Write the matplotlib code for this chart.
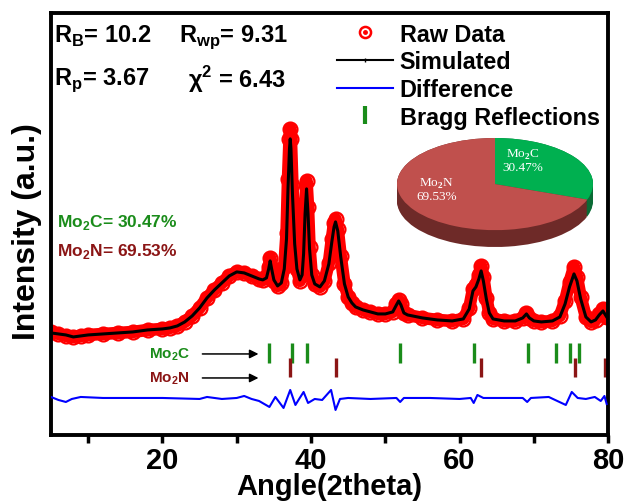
import numpy as np
import matplotlib.pyplot as plt
from matplotlib.lines import Line2D
from matplotlib.ticker import MultipleLocator

plt.rcParams['font.family'] = ['Liberation Sans', 'DejaVu Sans']
plt.rcParams['font.weight'] = 'bold'
plt.rcParams['mathtext.fontset'] = 'custom'
plt.rcParams['mathtext.rm'] = 'Liberation Serif'
plt.rcParams['mathtext.bf'] = 'Liberation Sans:bold'

# XRD pattern (arbitrary intensity units)
two_theta = [5.0, 6.0, 7.0, 8.0, 9.0, 10.0, 12.0, 14.0, 16.0, 18.0, 20.0, 21.0, 22.0, 23.0,
             24.0, 25.0, 26.0, 27.0, 28.0, 29.0, 30.0, 31.0, 32.0, 33.0, 33.5, 34.0, 34.3,
             34.5, 34.7, 35.0, 35.5, 36.0, 36.4, 36.7, 36.9, 37.1, 37.2, 37.3, 37.5, 37.8,
             38.1, 38.5, 38.8, 39.0, 39.2, 39.4, 39.6, 39.8, 40.1, 40.5, 41.2, 41.8, 42.4,
             42.8, 43.1, 43.3, 43.6, 44.0, 44.5, 45.0, 45.5, 46.0, 47.0, 48.0, 49.0, 50.0,
             51.0, 51.5, 51.8, 52.1, 52.5, 53.0, 55.0, 57.0, 59.0, 60.5, 61.3, 61.8, 62.2,
             62.6, 62.9, 63.2, 63.6, 64.0, 64.5, 66.0, 67.5, 68.5, 69.0, 69.4, 70.0, 71.0,
             72.5, 73.5, 74.2, 74.8, 75.4, 75.8, 76.3, 77.0, 77.7, 78.3, 78.8, 79.3, 79.8]
simulated = [102, 101, 100, 98, 99, 100, 101, 102, 103, 105, 106, 107, 109, 113,
             119, 127, 137, 145, 152, 159, 163, 162, 159, 156, 155, 157, 166,
             174, 166, 155, 149, 152, 166, 196, 246, 286, 296, 286, 241, 191,
             166, 155, 160, 181, 221, 246, 221, 186, 160, 151, 148, 154, 171,
             193, 208, 213, 204, 178, 151, 138, 132, 128, 125, 123, 121, 121,
             123, 130, 134, 130, 122, 120, 117, 115, 114, 116, 126, 144, 148,
             156, 164, 154, 136, 122, 116, 114, 114, 117, 121, 117, 114, 113,
             114, 118, 131, 148, 161, 154, 136, 118, 113, 115, 120, 124, 118]
raw_data = [103, 101, 99, 98, 99, 100, 101, 102, 103, 105, 106, 107, 109, 113,
            119, 127, 137, 145, 152, 159, 163, 162, 159, 156, 155, 158, 168,
            177, 167, 154, 149, 152, 168, 202, 256, 296, 306, 296, 250, 196,
            166, 154, 160, 184, 229, 254, 228, 188, 160, 151, 148, 154, 172,
            196, 212, 216, 206, 179, 151, 138, 132, 128, 125, 123, 121, 121,
            123, 131, 135, 131, 122, 120, 117, 115, 114, 116, 127, 146, 150,
            160, 169, 158, 137, 122, 116, 114, 114, 117, 122, 117, 114, 113,
            114, 119, 134, 153, 168, 158, 138, 118, 113, 115, 121, 126, 118]

diff_theta = [5.0, 6.0, 7.0, 7.8, 9.0, 12.0, 16.0, 20.0, 25.0, 26.0, 28.0, 30.0, 31.0,
              32.0, 33.0, 34.4, 35.2, 36.3, 37.2, 37.9, 38.4, 39.0, 39.6, 40.5, 41.5,
              42.7, 43.3, 43.9, 45.0, 48.0, 51.5, 52.0, 52.5, 56.0, 60.0, 61.5, 61.9,
              62.4, 63.2, 65.0, 68.5, 69.1, 69.6, 72.0, 74.3, 75.1, 75.9, 77.0, 78.2,
              79.0, 79.5, 79.8]
difference = [38, 35, 33, 36, 38, 37, 37, 37, 36, 38, 36, 37, 39,
              36, 34, 28, 38, 27, 45, 30, 36, 43, 32, 36, 35,
              45, 25, 36, 37, 36, 37, 33, 37, 37, 36, 37, 32,
              40, 37, 37, 37, 33, 37, 38, 30, 43, 37, 36, 38,
              34, 39, 31]

mo2c_pos = [34.4, 37.4, 39.5, 52.0, 61.9, 69.2, 73.0, 74.8, 76.1]
mo2n_pos = [37.2, 43.3, 62.9, 75.6, 79.6]

phase_names = ['Mo$_\\mathrm{2}$C', 'Mo$_\\mathrm{2}$N']
phase_frac = [30.47, 69.53]

red = '#ff0000'
green = '#1a8c1a'
darkred = '#8b1515'

fig = plt.figure(figsize=(6.26, 5.02), dpi=100)
ax = fig.add_axes([0.0815, 0.1315, 0.890, 0.841])

ax.plot(two_theta, raw_data, color=red, lw=9, solid_joinstyle='round', zorder=2)
ax.plot(two_theta, raw_data, 'o', mfc='none', mec=red, ms=10, mew=1.6, zorder=2)
ax.plot(two_theta, simulated, color='black', lw=2.2, zorder=3)
ax.plot(diff_theta, difference, color='#0000ff', lw=1.5, zorder=3)

ax.vlines(mo2c_pos, 72, 92, color=green, lw=2.4)
ax.vlines(mo2n_pos, 58, 77, color=darkred, lw=2.4)

ax.text(20.9, 81, 'Mo$_\\mathbf{2}$C', color=green, fontsize=11, ha='center', va='center')
ax.text(20.9, 57, 'Mo$_\\mathbf{2}$N', color=darkred, fontsize=11, ha='center', va='center')
for yy in (81, 57):
    ax.annotate('', xy=(33.3, yy), xytext=(25.0, yy),
                arrowprops=dict(arrowstyle='-|>', color='black', lw=1.1, mutation_scale=13))

ax.text(5.8, 213, 'Mo$_\\mathbf{2}$C= 30.47%', color=green, fontsize=12.5, va='center')
ax.text(5.8, 184, 'Mo$_\\mathbf{2}$N= 69.53%', color=darkred, fontsize=12.5, va='center')

ax.text(5.4, 399, 'R$_\\mathbf{B}$= 10.2', fontsize=17, va='center')
ax.text(22.2, 399, 'R$_\\mathbf{wp}$= 9.31', fontsize=17, va='center')
ax.text(5.4, 356, 'R$_\\mathbf{p}$= 3.67', fontsize=17, va='center')
ax.text(23.5, 356, 'χ$^\\mathbf{2}$ = 6.43', fontsize=17, va='center')

raw_h = (Line2D([], [], ls='none', marker='o', mfc='none', mec=red, ms=8, mew=1.8),
         Line2D([], [], ls='none', marker='o', color=red, ms=2.5))
sim_h = Line2D([], [], color='black', lw=1.5, marker='|', ms=3)
diff_h = Line2D([], [], color='#0000ff', lw=1.5)
bragg_h = Line2D([], [], ls='none', marker='|', color=green, ms=13, mew=3)
ax.legend([raw_h, sim_h, diff_h, bragg_h],
          ['Raw Data', 'Simulated', 'Difference', 'Bragg Reflections'],
          loc='upper right', bbox_to_anchor=(1.01, 1.01), frameon=False,
          fontsize=16.8, handlelength=2.4, numpoints=1, labelspacing=0.2,
          handletextpad=0.3, borderaxespad=0.2)

ax.set_xlim(5, 80)
ax.set_ylim(0, 422)
ax.set_yticks([])
ax.xaxis.set_major_locator(MultipleLocator(20))
ax.xaxis.set_minor_locator(MultipleLocator(10))
ax.tick_params(axis='x', which='both', direction='out', length=6, width=2.5, pad=2, labelsize=21)
for lbl in ax.get_xticklabels():
    lbl.set_fontweight('bold')
for sp in ax.spines.values():
    sp.set_linewidth(2.8)

fig.text(27 / 626, 1 - 232 / 502, 'Intensity (a.u.)', rotation=90, fontsize=23,
         ha='center', va='center')
fig.text(329 / 626, 1 - 487 / 502, 'Angle(2theta)', fontsize=21, ha='center', va='center')

# 3D-looking pie inset
pax = fig.add_axes([397 / 626, 1 - 248 / 502, 196 / 626, 109 / 502])
for d in np.linspace(-0.366, 0, 14):
    pax.pie(phase_frac, startangle=90, counterclock=False, center=(0, d),
            colors=['#0a6b35', '#6e2a28'], wedgeprops=dict(linewidth=0))
pax.pie(phase_frac, startangle=90, counterclock=False,
        colors=['#00b050', '#c0504d'], wedgeprops=dict(linewidth=0))
pax.set_aspect('auto')
pax.set_xlim(-1, 1)
pax.set_ylim(-1.366, 1.0)
pax.axis('off')
pax.text(0.28, 0.52, phase_names[0] + '\n%.2f%%' % phase_frac[0], color='white',
         fontsize=9.5, family='Liberation Serif', fontweight='normal',
         ha='center', va='center', linespacing=1.0)
pax.text(-0.6, -0.1, phase_names[1] + '\n%.2f%%' % phase_frac[1], color='white',
         fontsize=9.5, family='Liberation Serif', fontweight='normal',
         ha='center', va='center', linespacing=1.0)

fig.savefig('out.png', dpi=100)
